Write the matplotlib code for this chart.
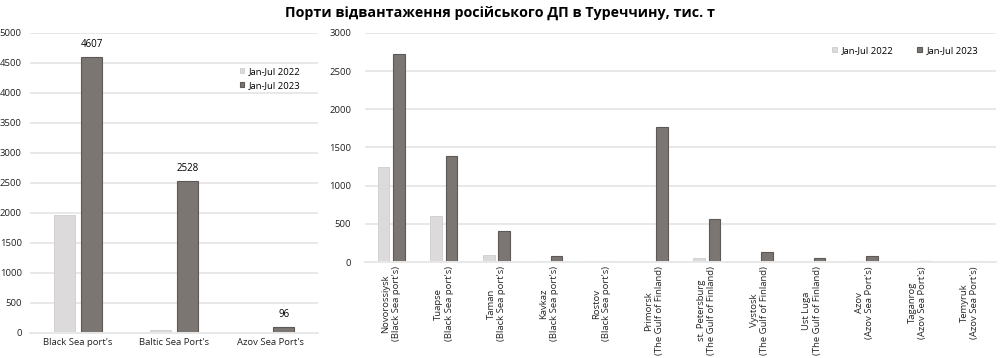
import numpy as np
import matplotlib.pyplot as plt

plt.rcParams['font.family'] = ['Open Sans', 'DejaVu Sans']

# left panel: by sea
seas = ["Black Sea port's", "Baltic Sea Port's", "Azov Sea Port's"]
sea_2022 = [1970, 50, 15]
sea_2023 = [4607, 2528, 96]

# right panel: by port
ports = ["Novorossiysk\n(Black Sea port's)", "Tuapse\n(Black Sea port's)", "Taman\n(Black Sea port's)",
         "Kavkaz\n(Black Sea port's)", "Rostov\n(Black Sea port's)", "Primorsk\n(The Gulf of Finland)",
         "st. Petersburg\n(The Gulf of Finland)", "Vystosk\n(The Gulf of Finland)", "Ust Luga\n(The Gulf of Finland)",
         "Azov\n(Azov Sea Port's)", "Taganrog\n(Azov Sea Port's)", "Temyruk\n(Azov Sea Port's)"]
port_2022 = [1245, 606, 88, 10, 8, 0, 57, 0, 0, 10, 5, 0]
port_2023 = [2729, 1389, 402, 75, 0, 1768, 563, 127, 57, 75, 15, 5]

c22, c23 = '#dcdadb', '#7b7672'
e22, e23 = '#cfcdce', '#5e5956'
grid_c = '#e8e8e8'

fig = plt.figure(figsize=(10, 3.58), dpi=100)
fig.suptitle('Порти відвантаження російського ДП в Туреччину, тис. т', fontsize=10.3, fontweight='bold', y=0.985)


def style(ax, ymax, step):
    ax.set_ylim(0, ymax)
    ax.set_yticks(np.arange(0, ymax + 1, step))
    ax.grid(axis='y', color=grid_c, linewidth=1.4)
    ax.set_axisbelow(True)
    for s in ['top', 'right', 'left']:
        ax.spines[s].set_visible(False)
    ax.spines['bottom'].set_color(grid_c)
    ax.spines['bottom'].set_linewidth(1.4)
    ax.tick_params(length=0, labelsize=6.8, colors='#222222')


w = 0.22
off = 0.145

ax1 = fig.add_axes([0.03, 0.070, 0.288, 0.838])
x = np.arange(len(seas))
ax1.bar(x - off, sea_2022, w, color=c22, edgecolor=e22, linewidth=0.6, label='Jan-Jul 2022')
b = ax1.bar(x + off, sea_2023, w, color=c23, edgecolor=e23, linewidth=0.8, label='Jan-Jul 2023')
ax1.bar_label(b, labels=[str(v) for v in sea_2023], padding=5, fontsize=7)
ax1.set_xlim(-0.5, len(seas) - 0.5)
ax1.set_xticks(x)
ax1.set_xticklabels(seas)
style(ax1, 5000, 500)
ax1.tick_params(axis='x', pad=4)
ax1.tick_params(axis='y', pad=6)
ax1.legend(loc='upper right', bbox_to_anchor=(0.97, 0.915), frameon=False, fontsize=6.8,
           handlelength=0.5, handleheight=0.5, handletextpad=0.5, labelspacing=0.5)

ax2 = fig.add_axes([0.365, 0.268, 0.631, 0.640])
x = np.arange(len(ports))
ax2.bar(x - off, port_2022, w, color=c22, edgecolor=e22, linewidth=0.6, label='Jan-Jul 2022')
ax2.bar(x + off, port_2023, w, color=c23, edgecolor=e23, linewidth=0.8, label='Jan-Jul 2023')
ax2.set_xlim(-0.5, len(ports) - 0.5)
ax2.set_xticks(x)
ax2.set_xticklabels(ports, rotation=90, ha='center', va='top', multialignment='center',
                    linespacing=1.2, fontsize=6.6, family=['Liberation Sans Narrow', 'Open Sans'])
style(ax2, 3000, 500)
ax2.tick_params(axis='x', pad=3)
ax2.tick_params(axis='y', pad=10)
ax2.legend(loc='upper right', bbox_to_anchor=(0.985, 0.98), ncol=2, frameon=False, fontsize=6.8,
           handlelength=0.5, handleheight=0.5, handletextpad=0.5, columnspacing=2.5)

fig.savefig('out.png', dpi=100)
